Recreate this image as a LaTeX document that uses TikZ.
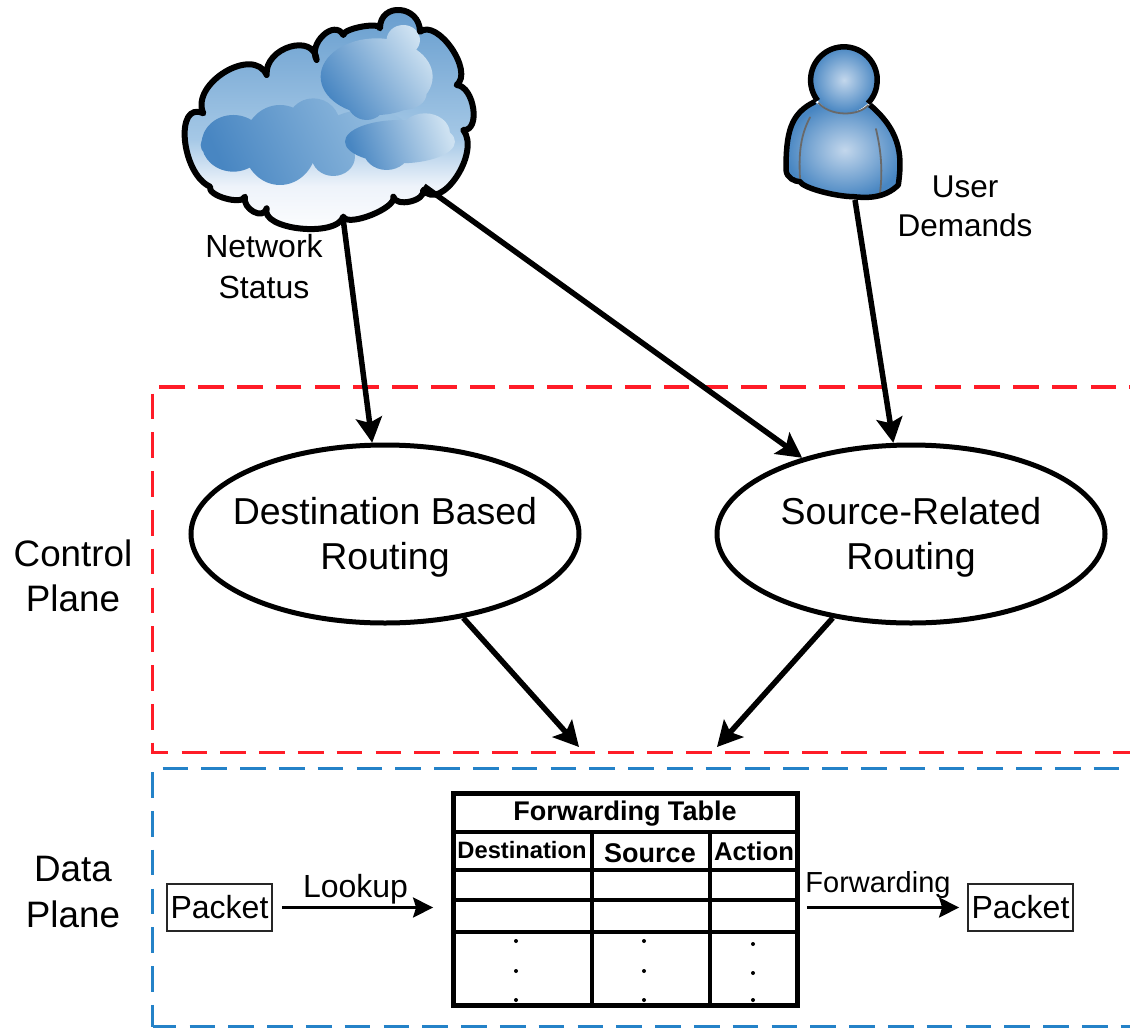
\documentclass[tikz,border=0pt]{standalone}
\usepackage{fontspec}
\setmainfont{Liberation Sans}
\usetikzlibrary{shapes.geometric,arrows.meta}
\definecolor{deepb}{RGB}{72,134,194}
\definecolor{midb}{RGB}{150,190,224}
\definecolor{paleb}{RGB}{205,225,241}
\definecolor{bgA}{RGB}{238,243,250}
\definecolor{bgB}{RGB}{165,200,230}
\definecolor{bgC}{RGB}{100,155,205}
\definecolor{ballC}{RGB}{195,215,236}
\definecolor{ctrlred}{RGB}{255,28,40}
\definecolor{dataBlue}{RGB}{36,130,200}
\definecolor{gline}{RGB}{105,105,105}
\pgfdeclareverticalshading{cloudbg}{100bp}{color(0bp)=(white);color(25bp)=(white);color(36bp)=(bgA);color(46bp)=(bgB);color(75bp)=(bgC);color(100bp)=(bgC)}
\pgfdeclareradialshading{personball}{\pgfpoint{0bp}{0bp}}{color(0bp)=(ballC);color(25bp)=(deepb);color(50bp)=(deepb)}
\tikzset{
  outline/.style={draw=black,line width=6pt,line join=round},
  bigarrow/.style={draw=black,line width=5.5pt,-{Stealth[length=25pt,width=26pt,inset=5pt]}},
  thinarrow/.style={draw=black,line width=3pt,-{Stealth[length=20pt,width=20pt,inset=3pt]}},
  routelabel/.style={align=center,font=\fontsize{37.5}{45}\selectfont,inner sep=0pt,yshift=-3pt},
  routing/.style={ellipse,draw=black,line width=5pt,minimum width=388pt,minimum height=178pt,inner sep=0pt},
  plabel/.style={align=center,text=black},
  packetbox/.style={draw=black!85,line width=1.8pt,minimum width=105pt,minimum height=47pt,inner sep=0pt,font=\fontsize{32}{36}\selectfont},
  grid/.style={draw=black,line width=4.8pt,line cap=rect},
  tdot/.style={circle,fill=black,inner sep=0pt,minimum size=4pt},
  thead/.style={inner sep=0pt},
  planered/.style={draw=ctrlred,line width=3.2pt,dash pattern=on 25.7pt off 13.1pt},
  planeblue/.style={draw=dataBlue,line width=3.2pt,dash pattern=on 25.7pt off 13.1pt},
}
\begin{document}
\begin{tikzpicture}[x=1pt,y=-1pt]
\useasboundingbox (0,0) rectangle (1130,1028);
% cloud
\begin{scope}[shift={(170,0)},x=0.3333pt,y=-0.3333pt]
\def\cloudpath{(100,340) .. controls (60,251) and (250,136) .. (290,225) .. controls (283,142) and (433,97) .. (440,180) .. controls (413,131) and (493,56) .. (520,105) .. controls (520,85) and (630,65) .. (630,85) .. controls (630,5) and (750,15) .. (750,95) .. controls (803,55) and (913,215) .. (860,255) .. controls (913,259) and (933,394) .. (880,390) .. controls (933,457) and (813,637) .. (760,570) .. controls (767,603) and (677,623) .. (670,590) .. controls (683,623) and (533,683) .. (520,650) .. controls (500,714) and (270,689) .. (290,625) .. controls (281,662) and (216,627) .. (225,590) .. controls (216,617) and (111,587) .. (120,560) .. controls (33,520) and (13,300) .. cycle}
\shade[shading=cloudbg] \cloudpath;
\shade[left color=deepb,right color=midb,shading angle=115]
  (190,430) ellipse (95 and 85) (130,435) ellipse (38 and 35) (330,435) ellipse (110 and 120) (430,375) ellipse (80 and 80) (490,470) ellipse (65 and 58) (590,390) ellipse (125 and 60);
\shade[left color=deepb,right color=paleb,shading angle=125]
  (620,230) ellipse (168 and 115) (700,120) ellipse (50 and 45) (590,300) ellipse (60 and 60) (700,280) ellipse (70 and 50);
\shade[left color=deepb,right color=paleb,shading angle=110]
  (690,425) ellipse (165 and 65) (765,400) ellipse (75 and 60) (650,450) ellipse (70 and 60);
\draw[outline] \cloudpath;
\end{scope}
% person
\begin{scope}[shift={(770,0)},x=0.3333pt,y=-0.3333pt]
\def\bodypath{(135,305) .. controls (60,340) and (48,400) .. (48,510) .. controls (50,535) and (75,545) .. (90,545) .. controls (100,565) and (200,590) .. (250,590) .. controls (290,595) and (345,595) .. (385,555) .. controls (395,480) and (400,400) .. (300,315) .. controls (260,345) and (180,345) .. (135,305) -- cycle}
\shade[shading=personball] \bodypath;
\shade[shading=personball] (222,240) circle (100);
\draw[draw=gline,line width=1.8pt,line cap=round] (120,352) .. controls (95,400) and (85,450) .. (90,535);
\draw[draw=gline,line width=1.8pt,line cap=round] (318,387) .. controls (330,440) and (340,500) .. (330,580);
\draw[draw=gline,line width=1.8pt] (145,308) .. controls (180,350) and (265,350) .. (295,315);
\draw[draw=black,line width=5.5pt,line join=round] (135,305) .. controls (60,340) and (48,400) .. (48,510) .. controls (50,535) and (75,545) .. (90,545) .. controls (100,565) and (200,590) .. (250,590) .. controls (290,595) and (345,595) .. (385,555) .. controls (395,480) and (400,400) .. (300,315);
\draw[draw=black,line width=5.5pt] (143,302) arc[start angle=142,end angle=404,radius=100];
\end{scope}
% labels
\node[plabel,font=\fontsize{32}{41}\selectfont] (netlabel) at (264,267) {Network\\Status};
\node[plabel,font=\fontsize{31.5}{39}\selectfont] (userlabel) at (965,206) {User\\Demands};
\node[plabel,font=\fontsize{36.8}{45}\selectfont] (ctrl) at (73,576) {Control\\Plane};
\node[plabel,font=\fontsize{36.8}{46}\selectfont] (dataplane) at (73,892) {Data\\Plane};
% planes
\draw[planered,dash phase=25pt] (1130,387) -- (152.7,387) -- (152.7,752.7) -- (1130,752.7);
\draw[planeblue,dash phase=29pt] (152.7,768.3) -- (1130,768.3);
\draw[planeblue,dash phase=35pt] (152.7,768.3) -- (152.7,1026.7);
\draw[planeblue,dash phase=2pt] (152.7,1026.7) -- (1130,1026.7);
% routing
\node[routing,label={[routelabel]center:Destination Based\\Routing}] (dest) at (385,534) {};
\node[routing,label={[routelabel]center:Source-Related\\Routing}] (src) at (911,534) {};
% table
\node[draw=black,line width=4.8pt,minimum width=344pt,minimum height=212pt,inner sep=0pt] (ftable) at (625.5,899.5) {};
\draw[grid] (453,832) -- (798,832);
\draw[grid] (453,870) -- (798,870);
\draw[grid] (453,900) -- (798,900);
\draw[grid] (453,932) -- (798,932);
\draw[grid] (592,832) -- (592,1006);
\draw[grid] (710,832) -- (710,1006);
\node[thead,font=\bfseries\fontsize{27}{30}\selectfont] (tt) at (625,814) {Forwarding Table};
\node[thead,font=\bfseries\fontsize{23.7}{26}\selectfont] (td) at (522,850) {Destination};
\node[thead,font=\bfseries\fontsize{27}{30}\selectfont] (ts) at (650,853) {Source};
\node[thead,font=\bfseries\fontsize{25.7}{28}\selectfont] (ta) at (754,851) {Action};
\foreach \n/\x/\y in {a/516/941,b/516/971,c/516/1000,d/644/941,e/644/971,f/644/1000,g/753/944,h/753/973,i/753/1000}{\node[tdot] (dot\n) at (\x,\y) {};}
% packets
\node[packetbox] (p1) at (219.5,907.5) {Packet};
\node[packetbox] (p2) at (1020.5,907.5) {Packet};
\node[font=\fontsize{32}{36}\selectfont,inner sep=0pt,anchor=base] (lk) at (355.5,897) {Lookup};
\node[font=\fontsize{29}{32}\selectfont,inner sep=0pt,anchor=base] (fw) at (878,892) {Forwarding};
\draw[thinarrow,shorten <=9pt,shorten >=18pt] (p1.east) -- (ftable.west |- p1.east);
\draw[thinarrow,shorten <=7pt,shorten >=8pt] (ftable.east |- p2.west) -- (p2.west);
% connectors
\coordinate (cloudA) at (343,218);
\coordinate (cloudB) at (424,186);
\coordinate (person) at (855,200);
\draw[bigarrow] (cloudA) -- (dest.98);
\draw[bigarrow] (cloudB) -- (src.145);
\draw[bigarrow] (person) -- (src.101);
\coordinate (joinA) at (579,747);
\coordinate (joinB) at (717,747);
\draw[bigarrow] (dest.-47) -- (joinA);
\draw[bigarrow] (src.-133) -- (joinB);
\end{tikzpicture}
\end{document}
